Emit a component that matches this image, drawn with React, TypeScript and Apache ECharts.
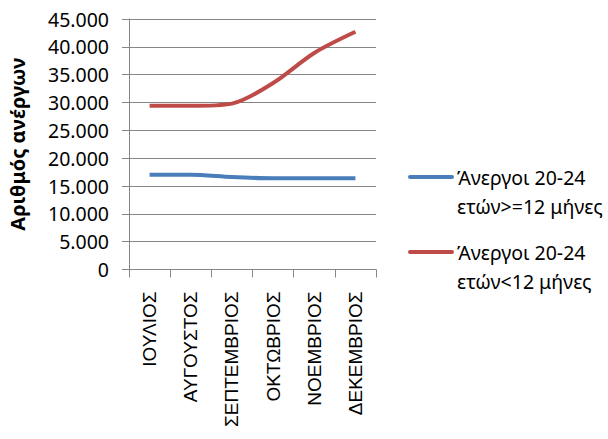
import React, { useEffect, useRef } from "react";
import * as echarts from "echarts";

const categories = ["ΙΟΥΛΙΟΣ", "ΑΥΓΟΥΣΤΟΣ", "ΣΕΠΤΕΜΒΡΙΟΣ", "ΟΚΤΩΒΡΙΟΣ", "ΝΟΕΜΒΡΙΟΣ", "ΔΕΚΕΜΒΡΙΟΣ"];
const longTerm = [17000, 17000, 16600, 16400, 16400, 16400];
const shortTerm = [29400, 29400, 29800, 33500, 38900, 42700];
const seriesNames = ["Άνεργοι 20-24 ετών>=12 μήνες", "Άνεργοι 20-24 ετών<12 μήνες"];
const legendLines = [
  ["Άνεργοι 20-24", "ετών>=12 μήνες"],
  ["Άνεργοι 20-24", "ετών<12 μήνες"],
];
const colors = ["#4a7ebb", "#be4b48"];
const yAxisTitle = "Αριθμός ανέργων";

const FONT = "'Noto Sans', sans-serif";

export default function App() {
  const ref = useRef<HTMLDivElement>(null);
  useEffect(() => {
    const chart = echarts.init(ref.current!, null, { renderer: "svg" });
    const legendY = [177, 252];
    const graphic: any[] = [];
    legendLines.forEach((lines, i) => {
      graphic.push({
        type: "line",
        shape: { x1: 410, y1: legendY[i], x2: 452, y2: legendY[i] },
        style: { stroke: colors[i], lineWidth: 4, lineCap: "round" },
      });
      lines.forEach((t, j) => {
        graphic.push({
          type: "text",
          x: 457,
          y: legendY[i] + j * 29,
          style: {
            text: t,
            font: `19.5px ${FONT}`,
            fill: "#000",
            textVerticalAlign: "middle",
            verticalAlign: "middle",
          },
        });
      });
    });
    chart.setOption({
      animation: false,
      backgroundColor: "#fff",
      grid: { left: 129, right: 232, top: 19, bottom: 169.5, containLabel: false },
      xAxis: {
        type: "category",
        data: categories,
        boundaryGap: true,
        axisLine: { lineStyle: { color: "#868686", width: 1 } },
        axisTick: { show: true, length: 8, lineStyle: { color: "#868686" } },
        axisLabel: {
          rotate: 90,
          margin: 22,
          color: "#000",
          fontSize: 19,
          fontFamily: "'Liberation Sans', Arial, sans-serif",
          interval: 0,
        },
      },
      yAxis: {
        type: "value",
        min: 0,
        max: 45000,
        interval: 5000,
        name: yAxisTitle,
        nameLocation: "middle",
        nameRotate: 90,
        nameGap: 102,
        nameTextStyle: { fontSize: 20, fontWeight: "bold", fontFamily: FONT, color: "#000" },
        axisLine: { show: true, lineStyle: { color: "#868686" } },
        axisTick: { show: true, length: 7, lineStyle: { color: "#868686" } },
        splitLine: { show: true, lineStyle: { color: "#868686", width: 1 } },
        axisLabel: {
          margin: 20,
          color: "#000",
          fontSize: 19.5,
          fontFamily: FONT,
          formatter: (v: number) => (v === 0 ? "0" : v.toLocaleString("de-DE")),
        },
      },
      series: [
        {
          name: seriesNames[0],
          type: "line",
          data: longTerm,
          smooth: 0.3,
          symbol: "none",
          lineStyle: { color: colors[0], width: 4 },
          itemStyle: { color: colors[0] },
        },
        {
          name: seriesNames[1],
          type: "line",
          data: shortTerm,
          smooth: 0.3,
          symbol: "none",
          lineStyle: { color: colors[1], width: 4 },
          itemStyle: { color: colors[1] },
        },
      ],
      graphic,
    });
    return () => chart.dispose();
  }, []);
  return (
    <div
      ref={ref}
      style={{ position: "absolute", left: 0, top: 0, width: 608, height: 439 }}
    />
  );
}
